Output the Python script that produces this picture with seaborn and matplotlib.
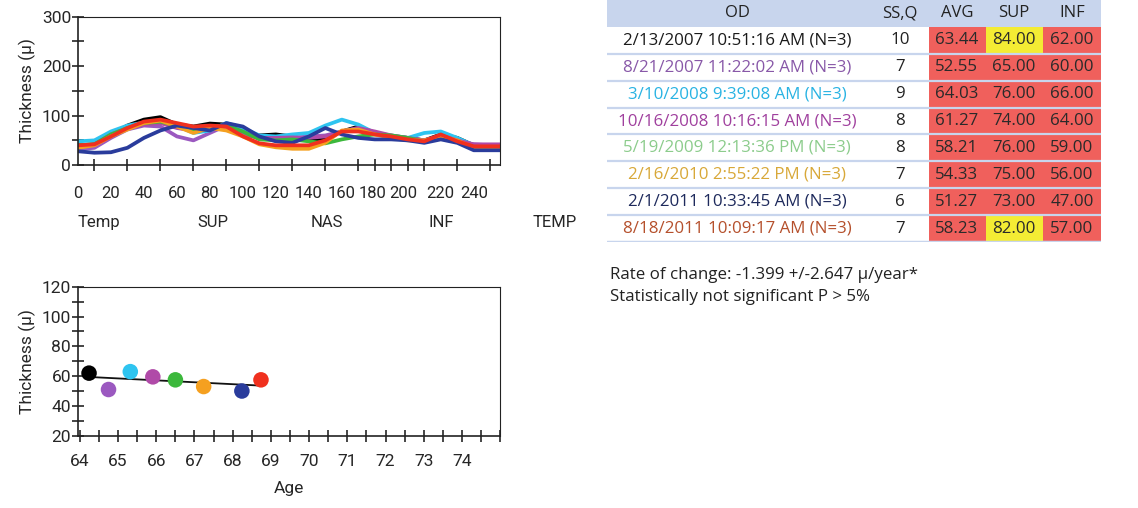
import matplotlib.pyplot as plt
import numpy as np
import pandas as pd
import seaborn as sns
from matplotlib.patches import Rectangle
from matplotlib.ticker import MultipleLocator

plt.switch_backend("Agg")
sns.set_theme(style="ticks")
plt.rcParams["font.family"] = ["Roboto", "DejaVu Sans"]
TABLE_FONT = ["Open Sans", "DejaVu Sans"]
AX_SIZE = 12.5

# exam labels and colours
visit_labels = [
    "2/13/2007 10:51:16 AM (N=3)",
    "8/21/2007 11:22:02 AM (N=3)",
    "3/10/2008 9:39:08 AM (N=3)",
    "10/16/2008 10:16:15 AM (N=3)",
    "5/19/2009 12:13:36 PM (N=3)",
    "2/16/2010 2:55:22 PM (N=3)",
    "2/1/2011 10:33:45 AM (N=3)",
    "8/18/2011 10:09:17 AM (N=3)",
]
line_colors = ["#000000", "#9b59c0", "#2ec4f0", "#b04aa8", "#3cb83c", "#f5a020", "#2a3c9c", "#f0301e"]
text_colors = ["#1a1a1a", "#8858a8", "#29b3e3", "#a0409e", "#8ccc8c", "#d8a838", "#1e2a5c", "#b5502c"]

ssq = [10, 7, 9, 8, 8, 7, 6, 7]
avg = [63.44, 52.55, 64.03, 61.27, 58.21, 54.33, 51.27, 58.23]
sup = [84.00, 65.00, 76.00, 74.00, 76.00, 75.00, 73.00, 82.00]
inf = [62.00, 60.00, 66.00, 64.00, 59.00, 56.00, 47.00, 57.00]
sup_flag = [True, False, False, False, False, False, False, True]

# TSNIT profiles sampled every 10 points
profile_x = list(range(0, 251, 10))
profile_black = [40, 42, 62, 80, 92, 97, 82, 78, 84, 82, 68, 60, 62, 58, 50, 55, 68, 78, 65, 58, 55, 50, 62, 55, 40, 38]
profile_purple = [32, 35, 55, 72, 80, 78, 58, 50, 65, 80, 68, 55, 52, 55, 58, 60, 68, 75, 65, 60, 55, 50, 57, 48, 42, 40]
profile_cyan = [48, 50, 68, 80, 86, 90, 80, 65, 70, 85, 75, 60, 58, 62, 65, 80, 92, 82, 65, 58, 55, 65, 68, 55, 40, 38]
profile_magenta = [38, 42, 62, 75, 82, 85, 75, 70, 78, 76, 62, 55, 55, 56, 55, 58, 68, 75, 68, 60, 55, 50, 60, 50, 42, 42]
profile_green = [40, 42, 62, 75, 85, 88, 80, 72, 78, 80, 68, 52, 50, 52, 48, 44, 52, 58, 62, 60, 55, 48, 58, 48, 35, 35]
profile_orange = [35, 40, 58, 72, 85, 90, 78, 65, 75, 70, 58, 42, 36, 33, 33, 45, 70, 72, 62, 55, 50, 50, 58, 50, 35, 35]
profile_blue = [28, 25, 26, 35, 55, 70, 80, 75, 70, 85, 78, 58, 48, 45, 58, 75, 62, 55, 52, 52, 50, 45, 52, 45, 30, 30]
profile_red = [40, 42, 58, 75, 88, 92, 85, 78, 80, 78, 58, 44, 40, 40, 40, 50, 68, 68, 62, 58, 52, 48, 62, 48, 38, 38]
profiles = [profile_black, profile_purple, profile_cyan, profile_magenta,
            profile_green, profile_orange, profile_blue, profile_red]

tick_pos = [0, 20, 40, 60, 80, 100, 120, 140, 160, 178.5, 197, 220, 240]
tick_labels = ["0", "20", "40", "60", "80", "100", "120", "140", "160", "180", "200", "220", "240"]
regions = ["Temp", "SUP", "NAS", "INF", "TEMP"]

# trend points
ages = [64.24, 64.75, 65.32, 65.91, 66.50, 67.24, 68.24, 68.74]
thickness = [62, 51, 63, 59.5, 57.5, 53, 50, 57.5]

fig = plt.figure(figsize=(11.38, 5.08), dpi=100)


def style_axes(ax):
    for s in ax.spines.values():
        s.set_linewidth(1.2)
        s.set_color("#222222")
    ax.spines["top"].set_linewidth(0.8)
    ax.spines["right"].set_linewidth(0.8)


# ---- profile chart
ax1 = fig.add_axes([0.0685, 0.675, 0.371, 0.292])
rows = []
for label, values in zip(visit_labels, profiles):
    for x, v in zip(profile_x, values):
        rows.append({"pos": x, "thick": v, "visit": label})
    rows.append({"pos": 256, "thick": values[-1], "visit": label})
prof_df = pd.DataFrame(rows)
sns.lineplot(data=prof_df, x="pos", y="thick", hue="visit", palette=line_colors,
             estimator=None, sort=False, linewidth=2.7, legend=False, ax=ax1)
ax1.set_xlim(0, 256)
ax1.set_ylim(0, 300)
ax1.set_xticks(tick_pos)
ax1.set_xticklabels(tick_labels)
ax1.xaxis.set_minor_locator(MultipleLocator(10))
ax1.yaxis.set_major_locator(MultipleLocator(100))
ax1.yaxis.set_minor_locator(MultipleLocator(50))
ax1.tick_params(axis="x", which="major", length=0, pad=15, labelsize=12)
ax1.tick_params(axis="x", which="minor", direction="inout", length=8, width=1.2)
ax1.tick_params(axis="y", which="both", direction="inout", length=8, width=1.2, pad=1, labelsize=AX_SIZE)
ax1.set_xlabel("")
ax1.set_ylabel("Thickness (µ)", fontsize=AX_SIZE, labelpad=4)
for i, name in enumerate(regions):
    ax1.text(0.05 + 0.27 * i, -0.385, name, transform=ax1.transAxes,
             ha="center", va="center", fontsize=12)
style_axes(ax1)

# ---- trend chart
ax2 = fig.add_axes([0.0685, 0.1423, 0.371, 0.2933])
trend_df = pd.DataFrame({"age": ages, "thick": thickness, "visit": visit_labels})
sns.regplot(data=trend_df, x="age", y="thick", scatter=False, ci=None, truncate=True,
            line_kws={"color": "#111111", "linewidth": 1.3}, ax=ax2)
sns.scatterplot(data=trend_df, x="age", y="thick", hue="visit", palette=line_colors,
                s=125, edgecolor="none", legend=False, ax=ax2, zorder=3)
ax2.set_xlim(63.95, 75)
ax2.set_ylim(20, 120)
ax2.set_xticks(list(range(64, 75)))
ax2.xaxis.set_minor_locator(MultipleLocator(0.5))
ax2.yaxis.set_major_locator(MultipleLocator(20))
ax2.yaxis.set_minor_locator(MultipleLocator(10))
ax2.tick_params(axis="both", which="both", direction="inout", length=8, width=1.2, labelsize=AX_SIZE)
ax2.tick_params(axis="y", pad=1)
ax2.tick_params(axis="x", pad=9)
ax2.set_xlabel("Age", fontsize=AX_SIZE, labelpad=9)
ax2.set_ylabel("Thickness (µ)", fontsize=AX_SIZE, labelpad=4)
style_axes(ax2)

# ---- table
tax = fig.add_axes([0.5334, 0.5236, 0.434, 0.4764])
tax.set_xlim(607, 1101)
tax.set_ylim(9, 0)
tax.axis("off")
header_blue = "#c8d5ed"
cell_red = "#f0605c"
cell_yellow = "#f4ec34"
col_edges = [607, 870, 929, 986, 1043, 1101]
col_centers = [737, 900, 957, 1014, 1072]
headers = ["OD", "SS,Q", "AVG", "SUP", "INF"]
tax.add_patch(Rectangle((607, 0), 494, 1, color=header_blue, lw=0))
for c, h in zip(col_centers, headers):
    tax.text(c, 0.5, h, ha="center", va="center", fontsize=12, color="#222222", family=TABLE_FONT)
for i in range(len(visit_labels)):
    r = i + 1
    fills = [cell_red, cell_yellow if sup_flag[i] else cell_red, cell_red]
    for j, fc in enumerate(fills):
        tax.add_patch(Rectangle((col_edges[2 + j], r), col_edges[3 + j] - col_edges[2 + j], 1,
                                color=fc, lw=0))
    tax.text(col_centers[0], r + 0.5, visit_labels[i], ha="center", va="center",
             fontsize=12.2, color=text_colors[i], family=TABLE_FONT)
    tax.text(col_centers[1], r + 0.5, str(ssq[i]), ha="center", va="center",
             fontsize=12.2, color="#222222", family=TABLE_FONT)
    for j, v in enumerate([avg[i], sup[i], inf[i]]):
        tax.text(col_centers[2 + j], r + 0.5, f"{v:.2f}", ha="center", va="center",
                 fontsize=12.2, color="#2a2a2a", family=TABLE_FONT)
    tax.axhline(r + 1, color=header_blue, lw=1.6 if i < 7 else 2.5)

fig.text(0.536, 0.459, "Rate of change: -1.399 +/-2.647 µ/year*", fontsize=12.2,
         va="center", color="#222222", family=TABLE_FONT)
fig.text(0.536, 0.415, "Statistically not significant P > 5%", fontsize=12.2,
         va="center", color="#222222", family=TABLE_FONT)

fig.savefig("out.png", dpi=100)
